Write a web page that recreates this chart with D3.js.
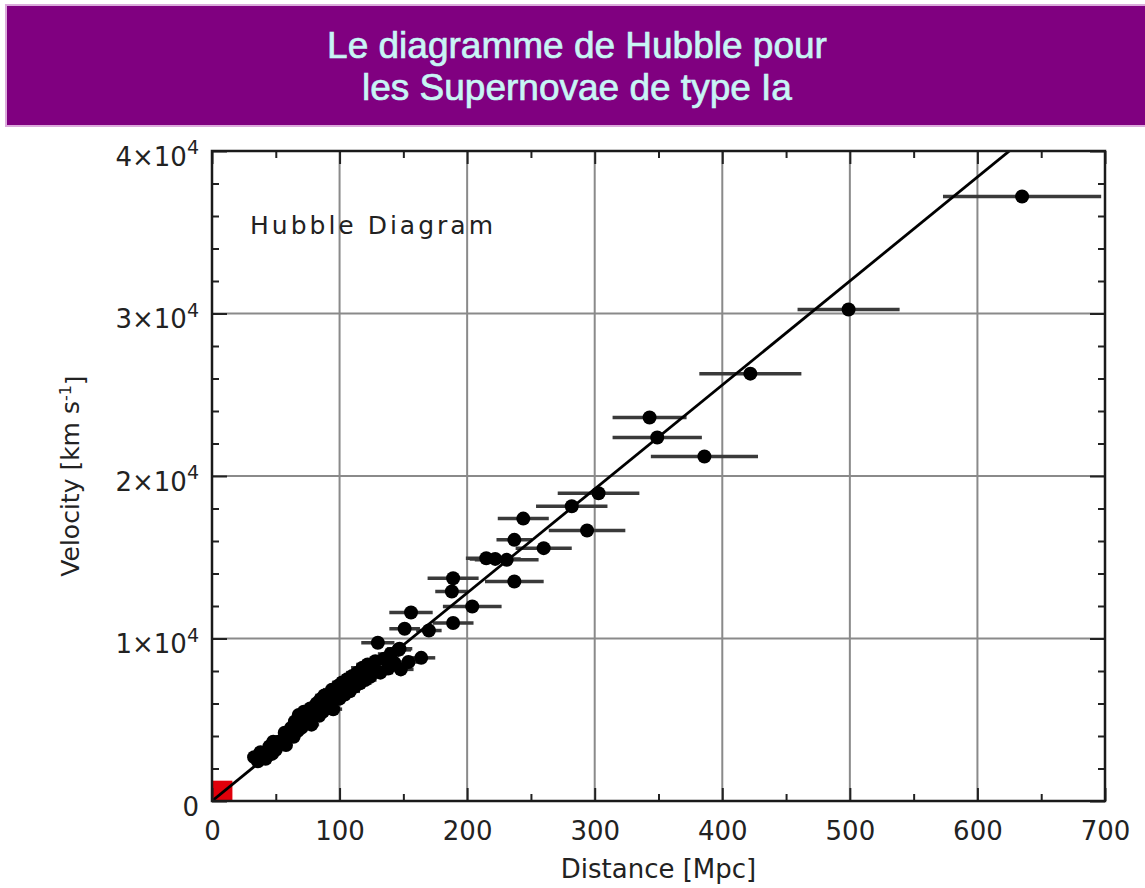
<!DOCTYPE html>
<html>
<head>
<meta charset="utf-8">
<script src="https://cdn.jsdelivr.net/npm/d3@7"></script>
<style>
  body { margin: 0; background: #fff; }
  svg { display: block; }
</style>
</head>
<body>
<svg id="chart" width="1145" height="888"></svg>
<script>
// ---- Data -------------------------------------------------------------
const titleLines = ["Le diagramme de Hubble pour", "les Supernovae de type Ia"];
const panelLabel = "Hubble Diagram";
const xTitle = "Distance [Mpc]";

// x axis (Mpc)
const xMajorTicks = [0, 100, 200, 300, 400, 500, 600, 700];
const xMinorTicks = [50, 150, 250, 350, 450, 550, 650];
const xGrid = [100, 200, 300, 400, 500, 600];

// y axis (km/s): [mantissa text, exponent]
const yMajorTicks = [0, 10000, 20000, 30000, 40000];
const yTickLabels = [["0", ""], ["1×10", "4"], ["2×10", "4"], ["3×10", "4"], ["4×10", "4"]];
const yMinorTicks = [2000, 4000, 6000, 8000, 12000, 14000, 16000, 18000, 22000, 24000,
                     26000, 28000, 32000, 34000, 36000, 38000];
const yGrid = [10000, 20000, 30000];

// Nearby supernovae: [distance Mpc, velocity km/s, distance error Mpc]
const nearbySNe = [
  [33, 2700, 3], [36, 2450, 3], [38, 3000, 3], [40, 2850, 3], [42, 2600, 3],
  [45, 3350, 4], [47, 2900, 4], [48, 3650, 4], [50, 3150, 4], [52, 3650, 4],
  [55, 3600, 4], [57, 4200, 4], [58, 3450, 4], [60, 4100, 5], [62, 4500, 5],
  [64, 3950, 5], [65, 4900, 5], [67, 4300, 5], [68, 5300, 5], [70, 4500, 5],
  [72, 5500, 5], [73, 4750, 6], [75, 5250, 6], [77, 5700, 6], [78, 4700, 6],
  [80, 5400, 6], [82, 6000, 6], [84, 5250, 6], [85, 6250, 6], [87, 5500, 7],
  [88, 6500, 7], [90, 5750, 7], [92, 6300, 7], [94, 6850, 7], [95, 5650, 7],
  [97, 6400, 7], [99, 7100, 7], [100, 6300, 7], [102, 7300, 8], [104, 6550, 8],
  [106, 7500, 8], [108, 6750, 8], [110, 7700, 8], [112, 7050, 8], [114, 7900, 9],
  [116, 7250, 9], [118, 8200, 9], [120, 7450, 9], [122, 8400, 9], [124, 7650, 9],
  [126, 8250, 9], [128, 8600, 10], [132, 7900, 10], [135, 8750, 10], [138, 8150, 10],
  [140, 9050, 10], [143, 8500, 10], [146, 9300, 10], [148, 8100, 10], [154, 8550, 11]
];

// More distant supernovae with larger distance uncertainties
const distantSNe = [
  [130, 9740, 13], [147, 9370, 10], [164, 8810, 11], [151, 10600, 12], [170, 10490, 10],
  [156, 11600, 17], [189, 10950, 16], [204, 11970, 23], [188, 12890, 13], [237, 13510, 23],
  [189, 13710, 20], [215, 14940, 16], [222, 14900, 20], [231, 14840, 25], [237, 16070, 14],
  [260, 15560, 22], [244, 17380, 20], [294, 16650, 30], [282, 18140, 28], [303, 18940, 32],
  [386, 21200, 42], [349, 22370, 35], [343, 23600, 29], [422, 26300, 40], [499, 30250, 40],
  [635, 37200, 62]
];

// Linear Hubble-law fit (km/s/Mpc)
const hubbleConstant = 64;
// Range covered by the original local-galaxy Hubble diagram
const localRange = { distance: 16, velocity: 1250 };

// ---- Layout ------------------------------------------------------------
const svg = d3.select("#chart");
const W = 1145, H = 888;
const plot = { left: 212, right: 1105, top: 151, bottom: 801 };

const x = d3.scaleLinear().domain([0, 700]).range([plot.left, plot.right]);
const y = d3.scaleLinear().domain([0, 40000]).range([plot.bottom, plot.top]);

svg.append("rect").attr("width", W).attr("height", H).attr("fill", "#fff");

// ---- Title banner ------------------------------------------------------
svg.append("rect")
  .attr("x", 6).attr("y", 5).attr("width", 1150).attr("height", 121)
  .attr("fill", "#800080")
  .attr("stroke", "#dcaadc").attr("stroke-width", 2);

svg.append("g").selectAll("text").data(titleLines).join("text")
  .attr("x", 577)
  .attr("y", (d, i) => 58 + i * 42)
  .attr("text-anchor", "middle")
  .attr("font-family", "'Liberation Sans', Arial, sans-serif")
  .attr("font-size", 37)
  .attr("fill", "#c8f5f5")
  .attr("stroke", "#c8f5f5").attr("stroke-width", 0.7)
  .text(d => d);

// ---- Grid ----------------------------------------------------------------
const grid = svg.append("g").attr("stroke", "#8a8a8a").attr("stroke-width", 2);
grid.selectAll("line.v").data(xGrid).join("line")
  .attr("class", "v")
  .attr("x1", d => x(d)).attr("x2", d => x(d))
  .attr("y1", plot.top).attr("y2", plot.bottom);
grid.selectAll("line.h").data(yGrid).join("line")
  .attr("class", "h")
  .attr("x1", plot.left).attr("x2", plot.right)
  .attr("y1", d => y(d)).attr("y2", d => y(d));

// ---- Plot contents (clipped to frame) -------------------------------------
svg.append("clipPath").attr("id", "plotClip")
  .append("rect")
  .attr("x", plot.left).attr("y", plot.top)
  .attr("width", plot.right - plot.left).attr("height", plot.bottom - plot.top);

const body = svg.append("g").attr("clip-path", "url(#plotClip)");

body.append("rect")
  .attr("x", x(0)).attr("y", y(localRange.velocity))
  .attr("width", x(localRange.distance) - x(0))
  .attr("height", y(0) - y(localRange.velocity))
  .attr("fill", "#e0000a");

const allSNe = nearbySNe.concat(distantSNe);

body.append("g").attr("stroke", "#3a3a3a").attr("stroke-width", 3.5)
  .selectAll("line").data(allSNe).join("line")
  .attr("x1", d => x(d[0] - d[2])).attr("x2", d => x(d[0] + d[2]))
  .attr("y1", d => y(d[1])).attr("y2", d => y(d[1]));

body.append("g").attr("fill", "#000")
  .selectAll("circle").data(allSNe).join("circle")
  .attr("cx", d => x(d[0])).attr("cy", d => y(d[1])).attr("r", 7);

body.append("line")
  .attr("x1", x(0)).attr("y1", y(0))
  .attr("x2", x(700)).attr("y2", y(700 * hubbleConstant))
  .attr("stroke", "#000").attr("stroke-width", 2.8);

// ---- Frame and ticks -----------------------------------------------------
const tickFont = "'DejaVu Sans', Verdana, sans-serif";

function styleAxis(g) {
  g.select(".domain").remove();
  g.selectAll(".tick line").attr("stroke", "#222").attr("stroke-width", 2);
}

// bottom
svg.append("g").attr("transform", `translate(0,${plot.bottom})`)
  .call(d3.axisBottom(x).tickValues(xMajorTicks).tickSize(-13).tickPadding(21).tickFormat(d3.format("d")))
  .call(styleAxis)
  .call(g => g.selectAll("text").attr("font-family", tickFont).attr("font-size", 26).attr("fill", "#222"));
svg.append("g").attr("transform", `translate(0,${plot.bottom})`)
  .call(d3.axisBottom(x).tickValues(xMinorTicks).tickSize(-7).tickFormat(""))
  .call(styleAxis);

// top
svg.append("g").attr("transform", `translate(0,${plot.top})`)
  .call(d3.axisTop(x).tickValues(xMajorTicks).tickSize(-13).tickFormat(""))
  .call(styleAxis);
svg.append("g").attr("transform", `translate(0,${plot.top})`)
  .call(d3.axisTop(x).tickValues(xMinorTicks).tickSize(-7).tickFormat(""))
  .call(styleAxis);

// left
const leftAxis = svg.append("g").attr("transform", `translate(${plot.left},0)`)
  .call(d3.axisLeft(y).tickValues(yMajorTicks).tickSize(-15).tickPadding(13))
  .call(styleAxis);
leftAxis.selectAll(".tick text")
  .attr("font-family", tickFont).attr("font-size", 26).attr("fill", "#222")
  .attr("dy", "0.55em")
  .each(function(d, i) {
    const t = d3.select(this).text("");
    const lab = yTickLabels[i];
    t.append("tspan").text(lab[0]);
    if (lab[1]) {
      t.append("tspan").attr("dy", "-0.62em").attr("font-size", 19).text(lab[1]);
    }
  });
svg.append("g").attr("transform", `translate(${plot.left},0)`)
  .call(d3.axisLeft(y).tickValues(yMinorTicks).tickSize(-7).tickFormat(""))
  .call(styleAxis);

// right
svg.append("g").attr("transform", `translate(${plot.right},0)`)
  .call(d3.axisRight(y).tickValues(yMajorTicks).tickSize(-15).tickFormat(""))
  .call(styleAxis);
svg.append("g").attr("transform", `translate(${plot.right},0)`)
  .call(d3.axisRight(y).tickValues(yMinorTicks).tickSize(-7).tickFormat(""))
  .call(styleAxis);

svg.append("rect")
  .attr("x", plot.left).attr("y", plot.top)
  .attr("width", plot.right - plot.left).attr("height", plot.bottom - plot.top)
  .attr("fill", "none").attr("stroke", "#1a1a1a").attr("stroke-width", 2.5);

// ---- Labels --------------------------------------------------------------
svg.append("text")
  .attr("x", 250).attr("y", 234)
  .attr("font-family", tickFont).attr("font-size", 25)
  .attr("fill", "#222")
  .attr("textLength", 243).attr("lengthAdjust", "spacing")
  .text(panelLabel);

svg.append("text")
  .attr("x", (plot.left + plot.right) / 2).attr("y", 878)
  .attr("text-anchor", "middle")
  .attr("font-family", tickFont).attr("font-size", 26).attr("fill", "#222")
  .text(xTitle);

const yTitle = svg.append("text")
  .attr("transform", `translate(79,${(plot.top + plot.bottom) / 2}) rotate(-90)`)
  .attr("text-anchor", "middle")
  .attr("font-family", tickFont).attr("font-size", 25).attr("fill", "#222");
yTitle.append("tspan").text("Velocity [km s");
yTitle.append("tspan").attr("dy", "-0.5em").attr("font-size", 16).text("-1");
yTitle.append("tspan").attr("dy", "0.5em").text("]");
</script>
</body>
</html>
